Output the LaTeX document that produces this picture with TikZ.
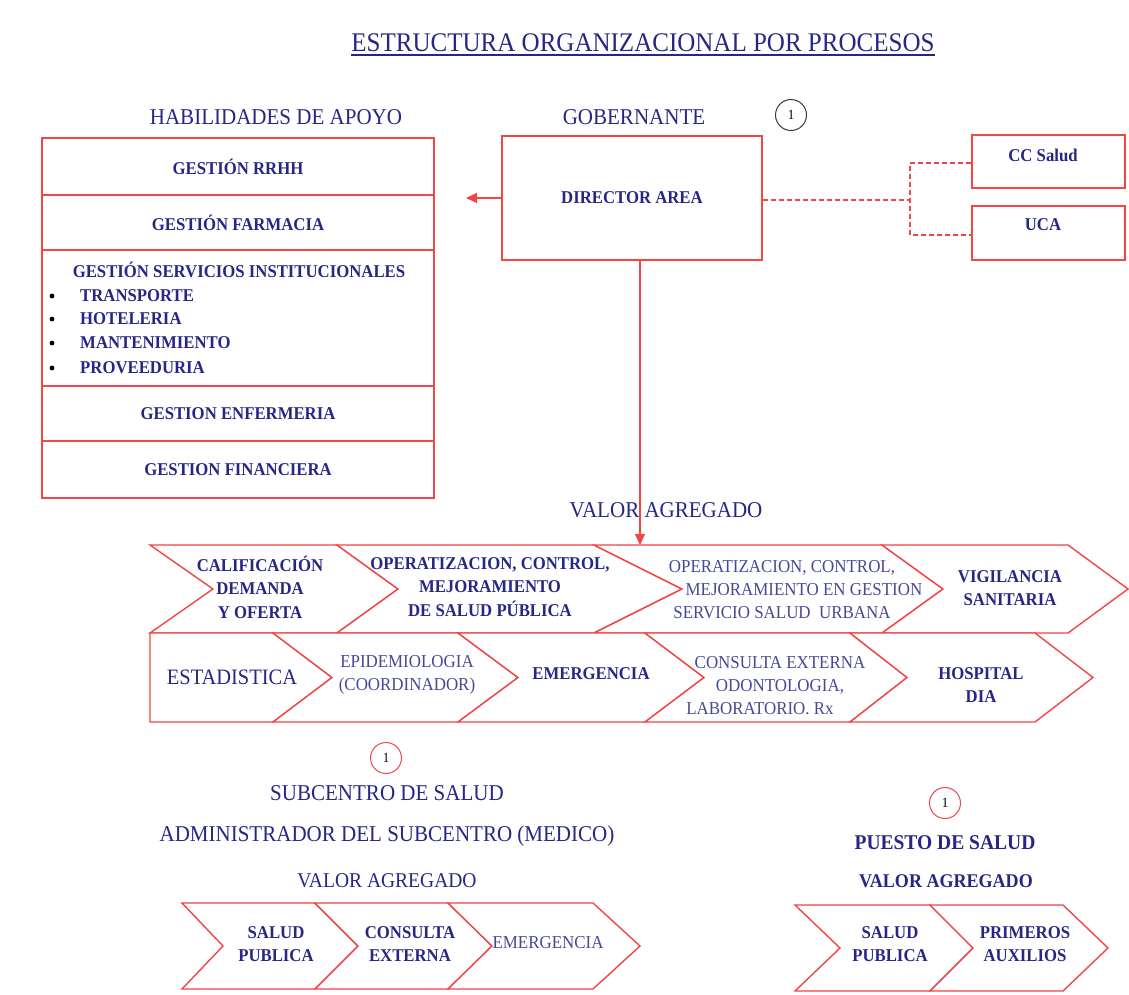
\documentclass[tikz,border=0pt]{standalone}
\usepackage{fontspec}
\setmainfont[FakeStretch=0.93]{Liberation Serif}
\usetikzlibrary{arrows.meta}
\definecolor{navy}{RGB}{38,38,135}
\definecolor{softnavy}{RGB}{72,72,150}
\definecolor{linered}{RGB}{242,70,70}
\definecolor{ringgray}{RGB}{60,60,60}
\tikzset{
  frame/.style={draw=linered, line width=1.4pt},
  boxnode/.style={frame, rectangle, inner sep=0pt},
  boldtxt/.style={text=navy, font=\bfseries\fontsize{18}{23.5}\selectfont, align=center, inner sep=0pt},
  plaintxt/.style={text=softnavy, font=\fontsize{18.2}{23}\selectfont, align=center, inner sep=0pt},
  headtxt/.style={text=navy, font=\fontsize{22.6}{26}\selectfont, inner sep=0pt},
  ring/.style={circle, draw=#1, line width=1pt, minimum size=31pt, inner sep=0pt, text=black, font=\fontsize{14}{15}\selectfont},
  link/.style={draw=linered, line width=1.3pt},
  dashlink/.style={draw=linered, line width=1.3pt, dash pattern=on 5pt off 3pt},
  tip/.style={-{Triangle[length=11pt,width=10pt]}}
}
% one chevron: left x, right x (top corners), tip x, notch x, top y, bottom y
\newcommand{\chevpath}[6]{%
  \draw[frame, fill=white, line join=miter] (#1,#5) -- (#2,#5) -- (#3,{(#5+#6)/2}) -- (#2,#6) -- (#1,#6) -- (#4,{(#5+#6)/2}) -- cycle;}
\begin{document}
\begin{tikzpicture}[x=1pt, y=-1pt]
\useasboundingbox[fill=white] (0,0) rectangle (1129,994);

% title
\node[text=navy, font=\fontsize{26.9}{30}\selectfont, inner sep=0pt] (title) at (643,43) {ESTRUCTURA ORGANIZACIONAL POR PROCESOS};
\draw[navy, line width=1.6pt] ([yshift=-3pt]title.south west) -- ([yshift=-3pt]title.south east);

% headings
\node[headtxt] (apoyo) at (276,117) {HABILIDADES DE APOYO};
\node[headtxt] (gob) at (634,117) {GOBERNANTE};
\node[ring=ringgray] (n1) at (791,115) {1};

% support stack
\node[boxnode, minimum width=392pt, minimum height=57pt] (rrhh) at (238,166.5) {};
\node[boxnode, minimum width=392pt, minimum height=55pt] (farm) at (238,222.5) {};
\node[boxnode, minimum width=392pt, minimum height=136pt] (serv) at (238,318) {};
\node[boxnode, minimum width=392pt, minimum height=55pt] (enf) at (238,413.5) {};
\node[boxnode, minimum width=392pt, minimum height=57pt] (fin) at (238,469.5) {};
\node[boldtxt] (trrhh) at (rrhh) {GESTIÓN RRHH};
\node[boldtxt] (tfarm) at (farm) {GESTIÓN FARMACIA};
\node[boldtxt] (tserv) at (239,270) {GESTIÓN SERVICIOS INSTITUCIONALES};
\foreach \y/\t [count=\i] in {296/TRANSPORTE, 319/HOTELERIA, 343/MANTENIMIENTO, 368/PROVEEDURIA} {
  \fill[black] (52,\y) circle (2.4pt);
  \node[boldtxt, anchor=west] (item\i) at (80,\y) {\t};
}
\node[boldtxt] (tenf) at (enf) {GESTION ENFERMERIA};
\node[boldtxt] (tfin) at (fin) {GESTION FINANCIERA};

% governing unit and advisory bodies
\node[boxnode, minimum width=260pt, minimum height=124pt] (dir) at (632,198) {};
\node[boldtxt] (tdir) at (632,198) {DIRECTOR AREA};
\node[boxnode, minimum width=153pt, minimum height=53pt] (cc) at (1048.5,161.5) {};
\node[boxnode, minimum width=153pt, minimum height=54pt] (uca) at (1048.5,233) {};
\node[boldtxt] (tcc) at (1043,155) {CC Salud};
\node[boldtxt] (tuca) at (1043,225) {UCA};
\coordinate (split) at (910,200);
\draw[dashlink] (dir.east |- split) -- (split);
\draw[dashlink] (cc.west |- 0,163) -| (split) |- (uca.west |- 0,235);
\coordinate (apoyoend) at (466,198);
\draw[link, tip, fill=linered] (dir.west |- apoyoend) -- (apoyoend);

% value chain
\node[headtxt] (valor) at (666,510) {VALOR AGREGADO};
\chevpath{150}{337}{398}{213}{545}{633}
\chevpath{337}{594}{682}{398}{545}{633}
\chevpath{594}{882}{943}{682}{545}{633}
\chevpath{882}{1068}{1128}{943}{545}{633}
\chevpath{150}{273}{332}{150}{633}{722}
\chevpath{273}{458}{518}{332}{633}{722}
\chevpath{458}{645}{704}{518}{633}{722}
\chevpath{645}{850}{907}{704}{633}{722}
\chevpath{850}{1035}{1093}{907}{633}{722}
\coordinate (chaintop) at (640,545);
\draw[link, tip, fill=linered] (dir.south -| chaintop) -- (chaintop);

\node[boldtxt] (c1) at (260,587) {CALIFICACIÓN\\DEMANDA\\Y OFERTA};
\node[boldtxt] (c2) at (490,587) {OPERATIZACION, CONTROL,\\MEJORAMIENTO\\DE SALUD PÚBLICA};
\node[plaintxt] (c3) at (782,590) {OPERATIZACION, CONTROL,\\\hspace*{44pt}MEJORAMIENTO EN GESTION\\SERVICIO SALUD\ \ URBANA};
\node[boldtxt] (c4) at (1010,588) {VIGILANCIA\\SANITARIA};
\node[text=navy, font=\fontsize{22}{26}\selectfont, inner sep=0pt] (d1) at (232,677) {ESTADISTICA};
\node[plaintxt] (d2) at (407,675) {EPIDEMIOLOGIA\\(COORDINADOR)};
\node[boldtxt] (d3) at (591,674) {EMERGENCIA};
\node[plaintxt] (d4) at (780,686) {CONSULTA EXTERNA\\ODONTOLOGIA,\\\hspace*{-40pt}LABORATORIO. Rx};
\node[boldtxt] (d5) at (981,685) {HOSPITAL\\DIA};

% sub-centre
\node[ring=linered] (n2) at (386,758) {1};
\node[headtxt] (sub) at (387,793) {SUBCENTRO DE SALUD};
\node[headtxt] (adm) at (387,836) {ADMINISTRADOR DEL SUBCENTRO (MEDICO)};
\node[headtxt, font=\fontsize{21}{24}\selectfont] (valsub) at (387,881) {VALOR AGREGADO};
\chevpath{182}{315}{358}{223}{903}{989}
\chevpath{315}{448}{492}{358}{903}{989}
\chevpath{448}{593}{640}{492}{903}{989}
\node[boldtxt] (e1) at (276,944) {SALUD\\PUBLICA};
\node[boldtxt] (e2) at (410,944) {CONSULTA\\EXTERNA};
\node[plaintxt] (e3) at (548,943) {EMERGENCIA};

% health post
\node[ring=linered] (n3) at (945,803) {1};
\node[headtxt, font=\bfseries\fontsize{21}{24}\selectfont] (puesto) at (945,843) {PUESTO DE SALUD};
\node[headtxt, font=\bfseries\fontsize{19.4}{22}\selectfont] (valpue) at (946,881) {VALOR AGREGADO};
\chevpath{795}{930}{973}{840}{905}{991}
\chevpath{930}{1063}{1108}{973}{905}{991}
\node[boldtxt] (f1) at (890,944) {SALUD\\PUBLICA};
\node[boldtxt] (f2) at (1025,944) {PRIMEROS\\AUXILIOS};
\end{tikzpicture}
\end{document}
